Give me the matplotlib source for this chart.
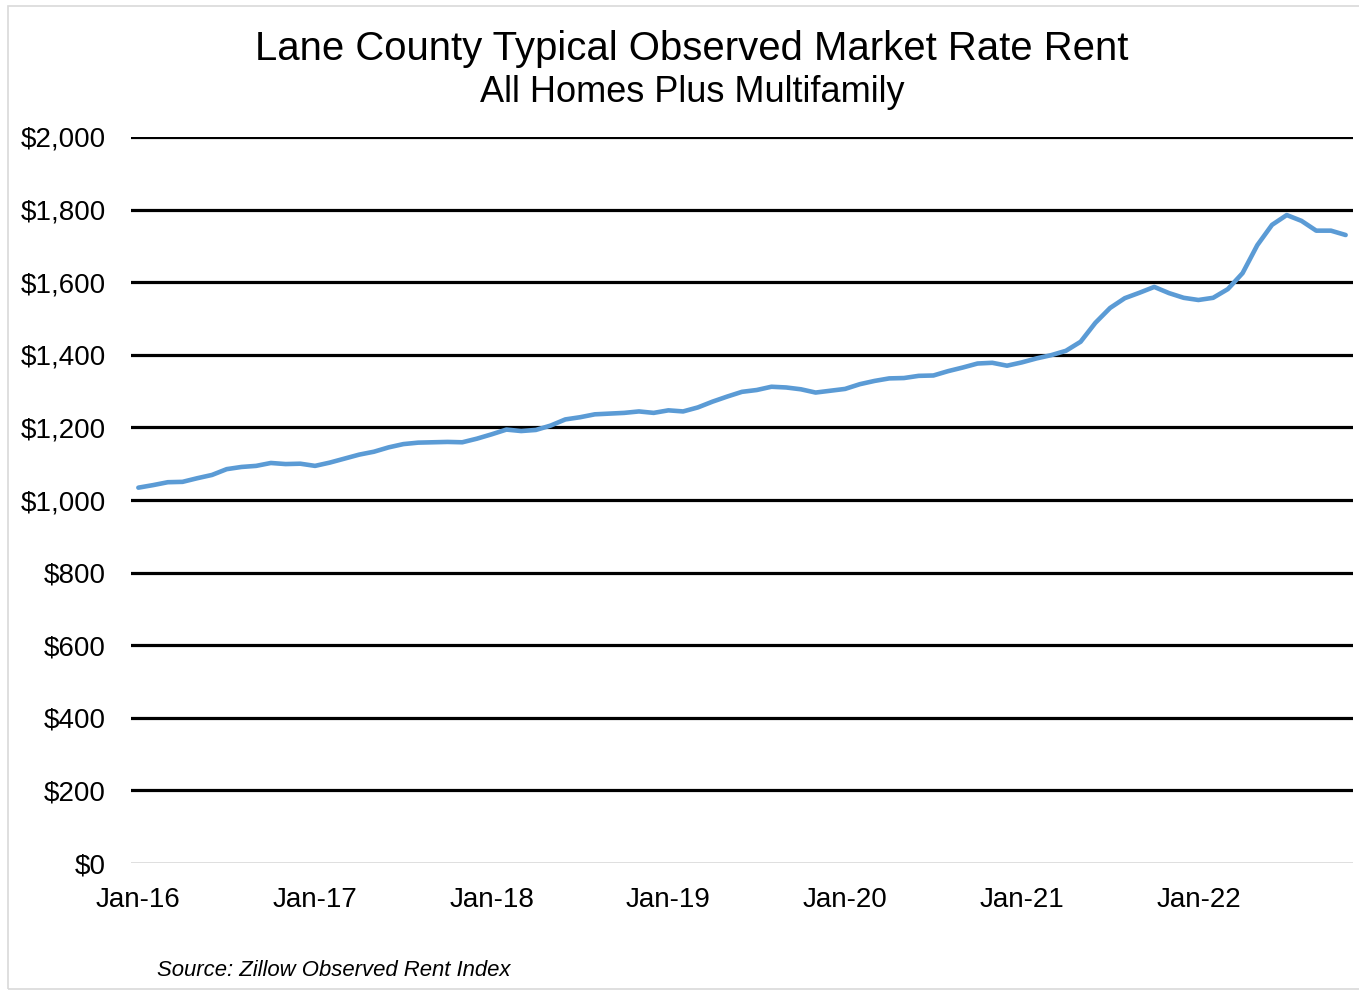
import numpy as np
import matplotlib.pyplot as plt
from matplotlib.patches import Rectangle
from matplotlib.ticker import FuncFormatter

plt.rcParams['font.family'] = ['Liberation Sans', 'DejaVu Sans']

# Typical observed rent, monthly from Jan 2016 to Nov 2022
months = [f"{m}-{y}" for y in range(16, 23)
          for m in ["Jan", "Feb", "Mar", "Apr", "May", "Jun",
                    "Jul", "Aug", "Sep", "Oct", "Nov", "Dec"]][:83]
rent = [1034, 1041, 1049, 1050, 1060, 1069, 1085, 1091, 1094, 1102, 1099, 1100,
        1094, 1103, 1114, 1125, 1133, 1145, 1154, 1158, 1159, 1160, 1159, 1169,
        1181, 1194, 1190, 1193, 1205, 1222, 1228, 1236, 1238, 1240, 1244, 1240,
        1247, 1244, 1255, 1271, 1285, 1298, 1303, 1312, 1310, 1305, 1296, 1301,
        1306, 1319, 1328, 1335, 1336, 1342, 1343, 1355, 1365, 1376, 1378, 1370,
        1379, 1390, 1399, 1411, 1436, 1488, 1529, 1556, 1571, 1587, 1570, 1557,
        1551, 1557, 1581, 1625, 1702, 1758, 1785, 1769, 1742, 1742, 1730]
y_ticks = [0, 200, 400, 600, 800, 1000, 1200, 1400, 1600, 1800, 2000]

W, H = 1359, 991
fig = plt.figure(figsize=(W / 100, H / 100), dpi=100)
ax = fig.add_axes([131 / W, 1 - 863 / H, 1222 / W, 726 / H])

x = np.arange(len(rent))
ax.plot(x, rent, color='#5B9BD5', lw=3.3, solid_joinstyle='round',
        solid_capstyle='round', zorder=3)

ax.set_xlim(-0.5, len(rent) - 0.5)
ax.set_ylim(0, 2000)
ax.set_yticks(y_ticks)
ax.yaxis.set_major_formatter(FuncFormatter(lambda v, p: f"${v:,.0f}"))
ax.set_xticks(x[::12])
ax.set_xticklabels([months[i] for i in x[::12]])

for v in y_ticks[1:]:
    ax.axhline(v, color='black', lw=2.3, zorder=1)
ax.axhline(0, color='#d9d9d9', lw=1.2, zorder=1)

for s in ax.spines.values():
    s.set_visible(False)
ax.tick_params(axis='both', length=0, labelsize=20, colors='black')
ax.tick_params(axis='y', pad=18)
ax.tick_params(axis='x', pad=17)

fig.text(692 / W, 1 - 60 / H, "Lane County Typical Observed Market Rate Rent",
         ha='center', va='baseline', fontsize=28.9)
fig.text(692 / W, 1 - 102 / H, "All Homes Plus Multifamily",
         ha='center', va='baseline', fontsize=26)
fig.text(157 / W, 1 - 976 / H, "Source: Zillow Observed Rent Index",
         ha='left', va='baseline', fontsize=15.9, style='italic')

# light frame around the chart area
fig.patches.append(Rectangle((8 / W, 0.002), 1.2, 1 - 6 / H - 0.002,
                             transform=fig.transFigure, fill=False,
                             edgecolor='#d9d9d9', lw=1.2))

fig.savefig('out.png', dpi=100)
